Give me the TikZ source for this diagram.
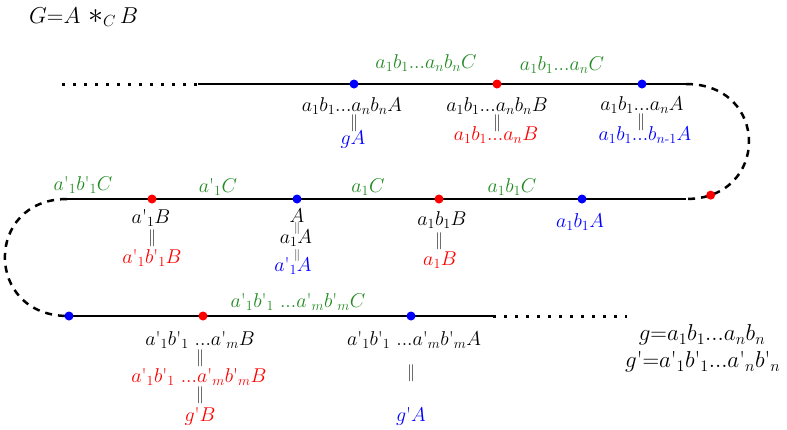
\RequirePackage{fix-cm}
\documentclass[tikz,border=0pt]{standalone}
\usepackage{amsmath}
\definecolor{lgreen}{RGB}{34,139,34}
\newcommand{\q}{\mbox{\textquotesingle}}
\begin{document}
\begin{tikzpicture}[x=1pt,y=-1pt,
 lbl/.style={font=\fontsize{20}{23}\selectfont, inner sep=0pt},
 deflbl/.style={font=\fontsize{23}{26}\selectfont, inner sep=0pt},
 eqs/.style={font=\fontsize{17}{18}\selectfont, inner sep=0pt, text=black!85},
 eqsmall/.style={font=\fontsize{12}{13}\selectfont, inner sep=0pt, text=black!85},
 gl/.style={lbl,text=lgreen}, rl/.style={lbl,text=red}, bl/.style={lbl,text=blue},
 rdot/.style={circle,fill=red,inner sep=0pt,minimum size=9pt},
 bdot/.style={circle,fill=blue,inner sep=0pt,minimum size=9pt},
 solidline/.style={line width=2.7pt},
 dotline/.style={line width=3pt,dash pattern=on 3pt off 8pt},
 dashline/.style={line width=2.5pt,dash pattern=on 7pt off 6pt}]
\useasboundingbox (0,0) rectangle (787,429);

% coordinates
\coordinate (L1a) at (62,84);
\coordinate (L1b) at (198,84);
\coordinate (L1c) at (686,84);
\coordinate (L2a) at (67,199);
\coordinate (L2b) at (686,199);
\coordinate (L3a) at (68,316);
\coordinate (L3b) at (493,316);
\coordinate (L3c) at (627,316);

% lines
\draw[dotline] (L1a) -- (L1b);
\draw[solidline] (L1b) -- (L1c);
\draw[dashline] (L1c) .. controls (770,84) and (770,199) .. (L2b)
   coordinate[pos=0.89] (R1);
\draw[solidline] (L2b) -- (L2a);
\draw[dashline] (L2a) .. controls (-16,199) and (-16,316) .. (L3a);
\draw[solidline] (L3a) -- (L3b);
\draw[dotline] (L3b) -- (L3c);

% dots
\node[bdot] (d1) at (354,84) {};
\node[rdot] (d2) at (497,84) {};
\node[bdot] (d3) at (642,84) {};
\node[rdot] (d4) at (R1) {};
\node[rdot] (d5) at (152,199) {};
\node[bdot] (d6) at (297,199) {};
\node[rdot] (d7) at (439,199) {};
\node[bdot] (d8) at (582,199) {};
\node[bdot] (d9) at (69,316) {};
\node[rdot] (d10) at (203,316) {};
\node[bdot] (d11) at (411,316) {};

% title
\node[deflbl,anchor=west] (title) at (29,17) {$G{=}A\,\mathop{\text{\fontsize{30}{30}\selectfont$\ast$}}_{C}B$};

% line 1 labels
\node[gl] (g1) at (426,63) {$a_1b_1...a_nb_nC$};
\node[gl] (g2) at (562,65) {$a_1b_1...a_nC$};
\node[lbl] (t1) at (352,106) {$a_1b_1...a_nb_nA$};
\node[eqs] (e1) at (354,123) {$\|$};
\node[bl] (t1b) at (353,140) {$gA$};
\node[lbl] (t2) at (497,106) {$a_1b_1...a_nb_nB$};
\node[eqs] (e2) at (497,123) {$\|$};
\node[rl] (t2b) at (496,135) {$a_1b_1...a_nB$};
\node[lbl] (t3) at (642,105) {$a_1b_1...a_nA$};
\node[eqs] (e3) at (641,122) {$\|$};
\node[bl] (t3b) at (645,135) {$a_1b_1...b_{n\text{-}1}A$};

% line 2 labels
\node[gl] (g3) at (83,185) {$a\q_1b\q_1C$};
\node[gl] (g4) at (218,187) {$a\q_1C$};
\node[gl] (g5) at (368,187) {$a_1C$};
\node[gl] (g6) at (512,187) {$a_1b_1C$};
\node[lbl] (t4) at (151,218) {$a\q_1B$};
\node[eqs] (e4) at (152,238) {$\|$};
\node[rl] (t4b) at (152,258) {$a\q_1b\q_1B$};
\node[lbl] (t5) at (297,216) {$A$};
\node[eqsmall] (e5) at (297,228) {$\|$};
\node[lbl] (t5b) at (296,238) {$a_1A$};
\node[eqsmall] (e5b) at (297,255) {$\|$};
\node[bl] (t5c) at (293,266) {$a\q_1A$};
\node[lbl] (t6) at (442,220) {$a_1b_1B$};
\node[eqs] (e6) at (439,241) {$\|$};
\node[rl] (t6b) at (440,260) {$a_1B$};
\node[bl] (t7) at (580,222) {$a_1b_1A$};

% line 3 labels
\node[gl] (g7) at (298,302) {$a\q_1b\q_1\ ...a\q_mb\q_mC$};
\node[lbl] (t8) at (200,340) {$a\q_1b\q_1\ ...a\q_mB$};
\node[eqs] (e8) at (200,358) {$\|$};
\node[rl] (t8b) at (199,377) {$a\q_1b\q_1\ ...a\q_mb\q_mB$};
\node[eqs] (e8b) at (200,395) {$\|$};
\node[rl] (t8c) at (200,416) {$g\q B$};
\node[lbl] (t9) at (414,340) {$a\q_1b\q_1\ ...a\q_mb\q_mA$};
\node[eqs] (e9) at (411,373) {$\|$};
\node[bl] (t9b) at (411,416) {$g\q A$};

% definitions
\node[deflbl] (def1) at (702,335) {$g{=}a_1b_1...a_nb_n$};
\node[deflbl,anchor=west] (def2) at (625,362) {$g\q{=}a\q_1b\q_1...a\q_nb\q_n$};
\end{tikzpicture}
\end{document}
